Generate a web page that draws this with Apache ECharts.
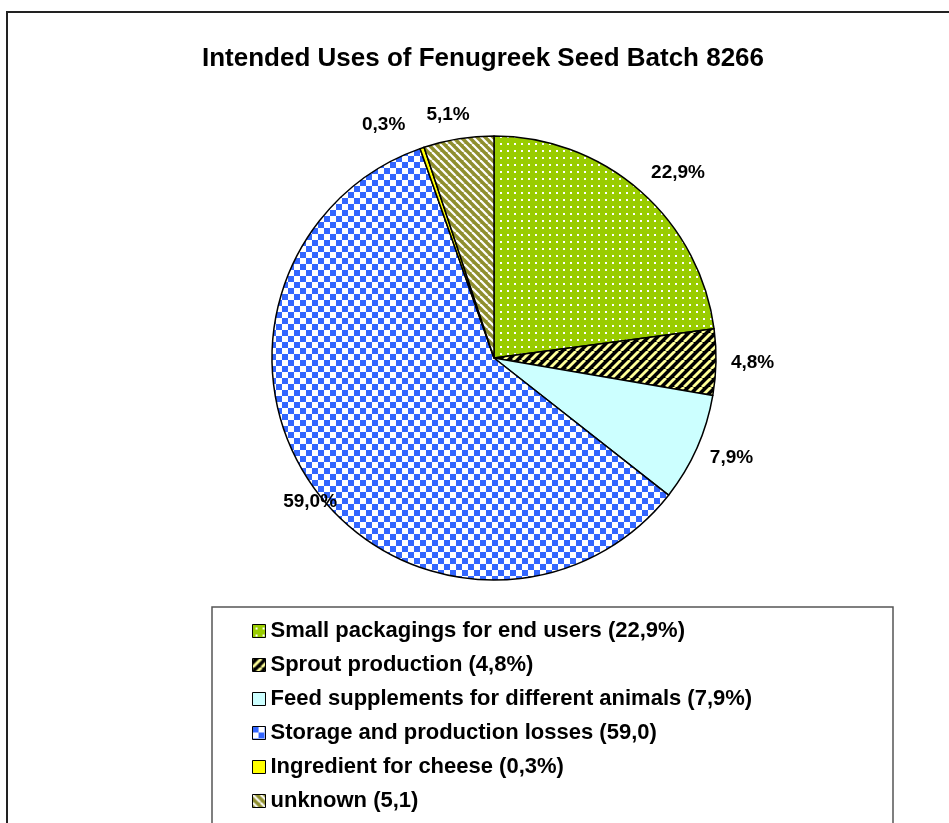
<!DOCTYPE html>
<html>
<head>
<meta charset="utf-8">
<title>Fenugreek seed batch</title>
<script src="https://cdn.jsdelivr.net/npm/echarts@6/dist/echarts.min.js"></script>
<style>
  html, body { margin: 0; padding: 0; background: #fff; }
  #main { width: 949px; height: 823px; }
</style>
</head>
<body>
<div id="main"></div>
<script>
// data
var categories = [
  'Small packagings for end users (22,9%)',
  'Sprout production (4,8%)',
  'Feed supplements for different animals (7,9%)',
  'Storage and production losses (59,0)',
  'Ingredient for cheese (0,3%)',
  'unknown (5,1)'
];
var values = [22.9, 4.8, 7.9, 59.0, 0.3, 5.1];
// small nudges of the outside labels (length2 of the hidden label line)
var labelShift = [-10, -14, -14, -48, 4, -20];

// fill patterns, Excel style
function tile(size, draw) {
  var c = document.createElement('canvas');
  c.width = size; c.height = size;
  draw(c.getContext('2d'), size);
  return { image: c, repeat: 'repeat' };
}
function stripes(bg, fg, size, w, up) {
  return tile(size, function (g, s) {
    g.fillStyle = bg; g.fillRect(0, 0, s, s);
    g.strokeStyle = fg; g.lineWidth = w;
    for (var k = -1; k <= 1; k++) {
      g.beginPath();
      if (up) { g.moveTo(k * s, s); g.lineTo(k * s + s, 0); }
      else { g.moveTo(k * s, 0); g.lineTo(k * s + s, s); }
      g.stroke();
    }
  });
}
var fills = [
  tile(7, function (g, s) {          // green, white dots
    g.fillStyle = '#99CC00'; g.fillRect(0, 0, s, s);
    g.fillStyle = '#ffffff'; g.fillRect(3, 3, 2, 2);
  }),
  stripes('#000000', '#FFFF99', 9, 2.8, true),   // black / yellow
  '#CCFFFF',
  tile(12, function (g, s) {         // blue checkerboard
    g.fillStyle = '#ffffff'; g.fillRect(0, 0, s, s);
    g.fillStyle = '#3366FF';
    g.fillRect(0, 0, 6, 6); g.fillRect(6, 6, 6, 6);
  }),
  '#FFFF00',
  stripes('#8F8F2E', '#ffffff', 8, 2.2, false)  // olive / white
];

var font = 'Liberation Sans, Arial';
var chart = echarts.init(document.getElementById('main'));
chart.setOption({
  animation: false,
  backgroundColor: '#fff',
  title: {
    text: 'Intended Uses of Fenugreek Seed Batch 8266',
    left: 478, top: 41, textAlign: 'center',
    textStyle: { fontFamily: font, fontWeight: 'bold', fontSize: 26, color: '#000' }
  },
  graphic: [
    { type: 'rect', shape: { x: 7, y: 12, width: 960, height: 830 },
      style: { fill: 'none', stroke: '#222', lineWidth: 2 }, silent: true },
    { type: 'rect', shape: { x: 212, y: 607, width: 681, height: 240 },
      style: { fill: 'none', stroke: '#555', lineWidth: 1.5 }, silent: true }
  ],
  legend: {
    orient: 'vertical',
    left: 247, top: 615,
    itemWidth: 13, itemHeight: 13, itemGap: 12,
    icon: 'rect',
    itemStyle: { borderColor: '#000', borderWidth: 1 },
    textStyle: { fontFamily: font, fontWeight: 'bold', fontSize: 22, color: '#000', lineHeight: 22 },
    data: categories
  },
  series: [{
    type: 'pie',
    center: [494, 358],
    radius: 222,
    startAngle: 90,
    clockwise: true,
    avoidLabelOverlap: false,
    itemStyle: { borderColor: '#000', borderWidth: 1.5 },
    label: {
      show: true, position: 'outside', color: '#000',
      fontFamily: font, fontWeight: 'bold', fontSize: 19,
      formatter: function (p) { return p.value.toFixed(1).replace('.', ',') + '%'; }
    },
    labelLine: { show: false, length: 24, length2: -14 },
    emphasis: { disabled: true },
    data: categories.map(function (name, i) {
      return {
        name: name, value: values[i],
        itemStyle: { color: fills[i] },
        labelLine: { length2: labelShift[i] }
      };
    })
  }]
});
</script>
</body>
</html>
